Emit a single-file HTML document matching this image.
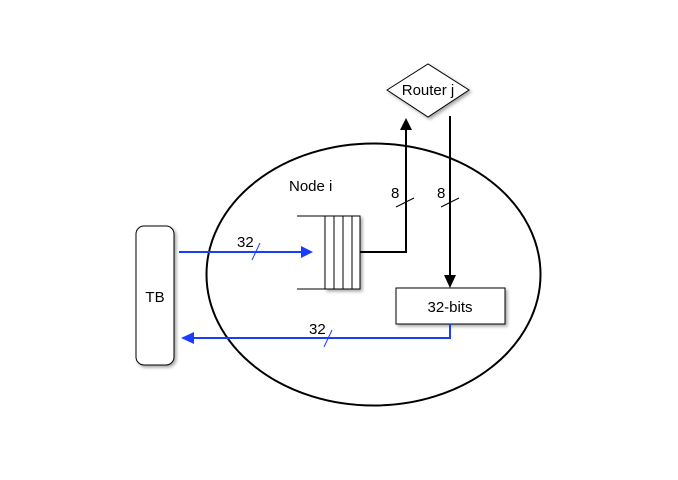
<!DOCTYPE html>
<html><head><style>body{margin:0;background:#fff}</style></head><body>
<svg width="678" height="475" xmlns="http://www.w3.org/2000/svg" font-family="Liberation Sans, sans-serif">
<defs>
<filter id="sh" x="-20%" y="-20%" width="150%" height="150%"><feDropShadow dx="2" dy="2" stdDeviation="1.5" flood-color="#000" flood-opacity="0.35"/></filter>
</defs>
<ellipse cx="373.5" cy="274.5" rx="167" ry="131" fill="none" stroke="#000" stroke-width="2"/>
<text x="289" y="191" font-size="15">Node i</text>
<polygon points="387,90 428,64 469,90 428,117" fill="#fff" stroke="#000" stroke-width="1" filter="url(#sh)"/>
<text x="428" y="95" font-size="15" text-anchor="middle">Router j</text>
<g stroke="#000" stroke-width="1" fill="none">
<rect x="325" y="216" width="35" height="73" fill="#fff" filter="url(#sh)"/>
<line x1="297" y1="216" x2="325" y2="216"/>
<line x1="297" y1="289" x2="325" y2="289"/>
<line x1="334" y1="216" x2="334" y2="289"/>
<line x1="343" y1="216" x2="343" y2="289"/>
<line x1="352" y1="216" x2="352" y2="289"/>
</g>
<polyline points="360,252 406,252 406,128" fill="none" stroke="#000" stroke-width="2"/>
<polygon points="400,130 406,118 412,130" fill="#000"/>
<line x1="450" y1="116" x2="450" y2="277" stroke="#000" stroke-width="2"/>
<polygon points="444,275 450,288 456,275" fill="#000"/>
<text x="391" y="198" font-size="15">8</text>
<text x="437" y="198" font-size="15">8</text>
<line x1="396" y1="207" x2="414" y2="198" stroke="#000" stroke-width="1"/>
<line x1="441" y1="207" x2="459" y2="198" stroke="#000" stroke-width="1"/>
<rect x="136" y="226" width="38" height="139" rx="8" fill="#fff" stroke="#000" stroke-width="1" filter="url(#sh)"/>
<text x="155" y="302" font-size="15" text-anchor="middle">TB</text>
<rect x="396" y="288" width="109" height="36" fill="#fff" stroke="#000" stroke-width="1" filter="url(#sh)"/>
<text x="450" y="312" font-size="15" text-anchor="middle">32-bits</text>
<line x1="179" y1="252" x2="303" y2="252" stroke="#1a3cff" stroke-width="2"/>
<polygon points="301,246 313,252 301,258" fill="#1a3cff"/>
<text x="237" y="247" font-size="15">32</text>
<line x1="252" y1="260" x2="260" y2="243" stroke="#1a3cff" stroke-width="1"/>
<polyline points="450,324 450,338 192,338" fill="none" stroke="#1a3cff" stroke-width="2"/>
<polygon points="194,332 181,338 194,344" fill="#1a3cff"/>
<text x="309" y="334" font-size="15">32</text>
<line x1="324" y1="347" x2="332" y2="330" stroke="#1a3cff" stroke-width="1"/>
</svg>
</body></html>
